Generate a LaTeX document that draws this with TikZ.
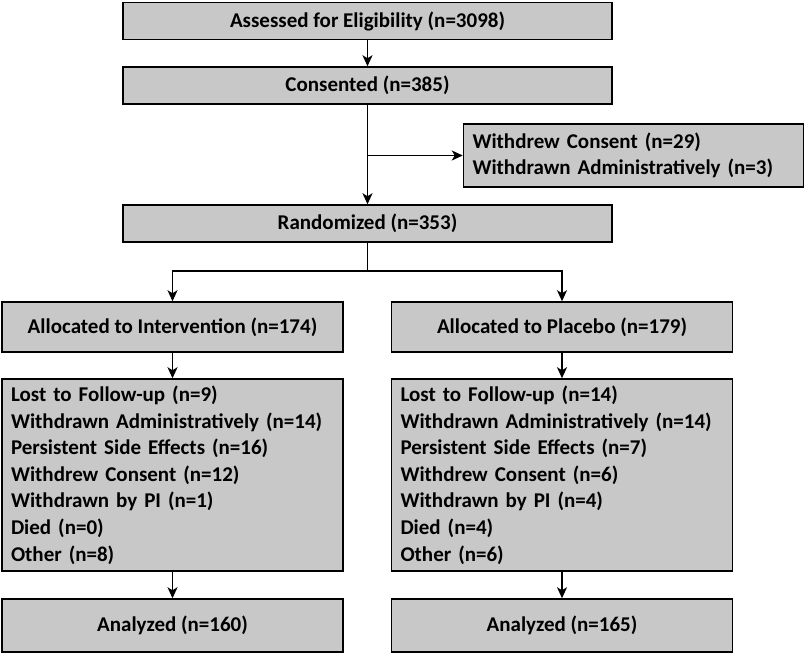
\documentclass[tikz,border=0pt]{standalone}
\usepackage{fontspec}
\setmainfont{Carlito}
\usetikzlibrary{arrows.meta}
\definecolor{boxgray}{RGB}{200,200,200}
\tikzset{
  box/.style={draw=black, fill=boxgray, line width=1.5pt, inner sep=0pt,
    font=\bfseries\fontsize{21}{26.6}\selectfont},
  wide/.style={box, minimum width=489pt, minimum height=37pt},
  half/.style={box, minimum width=341pt, minimum height=50pt},
  listbox/.style={box, minimum width=341pt, minimum height=192pt, text width=323pt, align=left},
  sidebox/.style={box, minimum width=340pt, minimum height=63pt, text width=322pt, align=left},
  conn/.style={line width=1.6pt, -{Stealth[length=11pt,width=10pt,inset=3pt]}},
  plain/.style={line width=1.6pt}
}
\begin{document}
\begin{tikzpicture}[x=1pt,y=-1pt]
\useasboundingbox (0,0) rectangle (805,653);
\node[wide] (assess) at (367.5,21) {Assessed for Eligibility (n=3098)};
\node[wide] (consent) at (367.5,85.5) {Consented (n=385)};
\node[sidebox] (withdrew) at (633.5,155.5) {Withdrew Consent (n=29)\\Withdrawn Administratively (n=3)};
\node[wide] (random) at (367.5,223.5) {Randomized (n=353)};
\node[half] (allocI) at (172.5,327) {Allocated to Intervention (n=174)};
\node[half] (allocP) at (562,327) {Allocated to Placebo (n=179)};
\node[listbox] (lostI) at (172.5,475) {Lost to Follow-up (n=9)\\Withdrawn Administratively (n=14)\\Persistent Side Effects (n=16)\\Withdrew Consent (n=12)\\Withdrawn by PI (n=1)\\Died (n=0)\\Other (n=8)};
\node[listbox] (lostP) at (562,475) {Lost to Follow-up (n=14)\\Withdrawn Administratively (n=14)\\Persistent Side Effects (n=7)\\Withdrew Consent (n=6)\\Withdrawn by PI (n=4)\\Died (n=4)\\Other (n=6)};
\node[half, minimum height=53pt] (anaI) at (172.5,625.5) {Analyzed (n=160)};
\node[half, minimum height=53pt] (anaP) at (562,625.5) {Analyzed (n=165)};

\coordinate (branch) at (consent.south |- withdrew.west);
\coordinate (split) at (367.5,271);
\draw[conn] (assess) -- (consent);
\draw[conn] (consent) -- (random);
\draw[conn] (branch) -- (withdrew.west);
\draw[plain] (random.south) -- (split);
\draw[conn] (split) -| (allocI.north);
\draw[conn] (split) -| (allocP.north);
\draw[conn] (allocI) -- (lostI);
\draw[conn] (allocP) -- (lostP);
\draw[conn] (lostI) -- (anaI);
\draw[conn] (lostP) -- (anaP);
\end{tikzpicture}
\end{document}
